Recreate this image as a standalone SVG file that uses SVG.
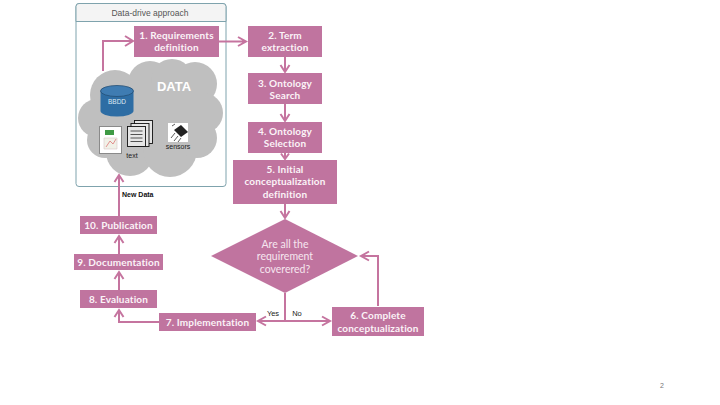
<svg xmlns="http://www.w3.org/2000/svg" width="720" height="405" viewBox="0 0 720 405">
<style>
.b{fill:#c0749f}
.t{fill:#fbf3f7;font-size:10px;font-weight:700;letter-spacing:.15px;text-anchor:middle;font-family:Lato,"Liberation Sans",sans-serif}
.q{fill:#f6e6ef;font-size:10.500px;text-anchor:middle;font-family:Lato,"Liberation Sans",sans-serif}
.c{fill:none;stroke:#c5749f;stroke-width:2}
.l{font-family:"Liberation Sans",sans-serif;text-anchor:middle}
</style>
<rect width="720" height="405" fill="#fff"/>
<g id="panel">
<rect x="76" y="3.500" width="150" height="183" rx="3" fill="#fff" stroke="#7fa3ad"/>
<path d="M76 21.500V6.500a3 3 0 0 1 3-3H223a3 3 0 0 1 3 3V21.500Z" fill="#f4f4f4" stroke="#7fa3ad"/>
<text class="l" x="150" y="15.500" font-size="8.500" fill="#555">Data-drive approach</text>
</g>
<g id="cloud" fill="#bfbfbf">
<circle cx="115" cy="95" r="25"/><circle cx="150" cy="83" r="22"/><circle cx="172" cy="80" r="21"/><circle cx="195" cy="84" r="22"/>
<circle cx="203" cy="113" r="20"/><circle cx="97" cy="118" r="19"/><circle cx="105" cy="140" r="18"/>
<circle cx="130" cy="152" r="24"/><circle cx="170" cy="150" r="27"/><circle cx="197" cy="138" r="20"/>
<rect x="100" y="85" width="105" height="65"/>
<text class="l" x="174" y="91" font-size="13" font-weight="700" fill="#fff">DATA</text>
</g>
<g id="bbdd">
<path d="M100.500 91v20a16.500 5.500 0 0 0 33 0v-20Z" fill="#2e6da4"/>
<ellipse cx="117" cy="91" rx="16.500" ry="5.500" fill="#3f7cb2" stroke="#244f75" stroke-width=".8"/>
<text class="l" x="117" y="104" font-size="6.500" fill="#dfe9f2">BBDD</text>
</g>
<g id="xls">
<rect x="99.500" y="126.500" width="22" height="27" fill="#fff" stroke="#8a8a8a"/>
<rect x="105" y="130" width="9" height="5" fill="#3f9a45"/>
<path d="M104 138h13v11h-13Z" fill="#f1f1e8" stroke="#d8c8c8" stroke-width=".6"/>
<path d="M106 147l4-6 3 3 3-5" fill="none" stroke="#d77" stroke-width=".8"/>
</g>
<g id="text-doc" fill="#e6e6e6" stroke="#111" stroke-width=".9">
<rect x="134.500" y="120.500" width="18" height="23"/><rect x="131" y="123.500" width="18" height="23"/><rect x="127.500" y="126.500" width="18" height="20"/>
<path d="M130.500 131h12M130.500 134.500h12M130.500 138h12M130.500 141.500h12" fill="none" stroke-width=".7"/>
<text class="l" x="132" y="158" font-size="7" fill="#222" stroke="none">text</text>
</g>
<g id="sensors">
<rect x="168" y="123" width="20" height="19" fill="#fff"/>
<path d="M174 130l7-5 7 7-7 5Z" fill="#222"/><path d="M175 133l-4 5M178 136l-4 5M181 138l-3 4M172 126l3-2" stroke="#333" stroke-width=".8" fill="none"/>
<text class="l" x="178" y="149" font-size="7" fill="#222">sensors</text>
</g>
<g id="connectors">
<path class="c" d="M103 71V41H133M125 36l8 5-8 5"/>
<path class="c" d="M219 41.500H246M238 37l8 4.500-8 4.500"/>
<path class="c" d="M285 57V72M280.500 65l4.500 7 4.500-7"/>
<path class="c" d="M285 104V121M280.500 114l4.500 7 4.500-7"/>
<path class="c" d="M285 153V159M281 153.500l4 5.500 4-5.500"/>
<path class="c" d="M285 204V218M280.500 211l4.500 7 4.500-7"/>
<path class="c" d="M285 293V321"/>
<path class="c" d="M258 321H330M266 316.500l-8 4.500 8 4.500M322 316.500l8 4.500-8 4.500"/>
<path class="c" d="M378 306V256H361M369 251.500l-8 4.500 8 4.500"/>
<path class="c" d="M159 322H119V310M114.500 317l4.500-7 4.500 7"/>
<path class="c" d="M119 290V272M114.500 279l4.500-7 4.500 7"/>
<path class="c" d="M119 254V236M114.500 243l4.500-7 4.500 7"/>
<path class="c" d="M119 216V175M114.500 182l4.500-7 4.500 7"/>
</g>
<g id="n1"><rect class="b" x="134" y="26" width="85" height="31"/><text class="t" x="176.500" y="39">1. Requirements</text><text class="t" x="176.500" y="51">definition</text></g>
<g id="n2"><rect class="b" x="248" y="26" width="74" height="31"/><text class="t" x="285" y="39">2. Term</text><text class="t" x="285" y="51">extraction</text></g>
<g id="n3"><rect class="b" x="248" y="73" width="74" height="31"/><text class="t" x="285" y="87">3. Ontology</text><text class="t" x="285" y="99">Search</text></g>
<g id="n4"><rect class="b" x="248" y="122" width="74" height="31"/><text class="t" x="285" y="135">4. Ontology</text><text class="t" x="285" y="147">Selection</text></g>
<g id="n5"><rect class="b" x="233" y="160" width="104" height="44"/><text class="t" x="285" y="173">5. Initial</text><text class="t" x="285" y="185">conceptualization</text><text class="t" x="285" y="198">definition</text></g>
<g id="decision"><path class="b" d="M285 219L358 256L285 293L211 256Z"/>
<text class="q" x="285" y="248">Are all the</text><text class="q" x="285" y="260">requirement</text><text class="q" x="285" y="273">coverered?</text></g>
<g id="n6"><rect class="b" x="332" y="307" width="92" height="29"/><text class="t" x="378" y="319">6. Complete</text><text class="t" x="378" y="332">conceptualization</text></g>
<g id="n7"><rect class="b" x="159" y="313" width="97" height="18"/><text class="t" x="207.500" y="326">7. Implementation</text></g>
<g id="n8"><rect class="b" x="80" y="290" width="77" height="18"/><text class="t" x="118.500" y="303">8. Evaluation</text></g>
<g id="n9"><rect class="b" x="74" y="254" width="89" height="16"/><text class="t" x="118.500" y="266">9. Documentation</text></g>
<g id="n10"><rect class="b" x="80" y="216" width="77" height="18"/><text class="t" x="118.500" y="229">10. Publication</text></g>
<text x="122" y="197" font-size="7" font-weight="700" fill="#111" font-family="Liberation Sans, sans-serif">New Data</text>
<text class="l" x="273" y="316" font-size="7.500" fill="#222">Yes</text>
<text class="l" x="297" y="316" font-size="7.500" fill="#222">No</text>
<text class="l" x="662" y="388" font-size="7" fill="#777">2</text>
</svg>
